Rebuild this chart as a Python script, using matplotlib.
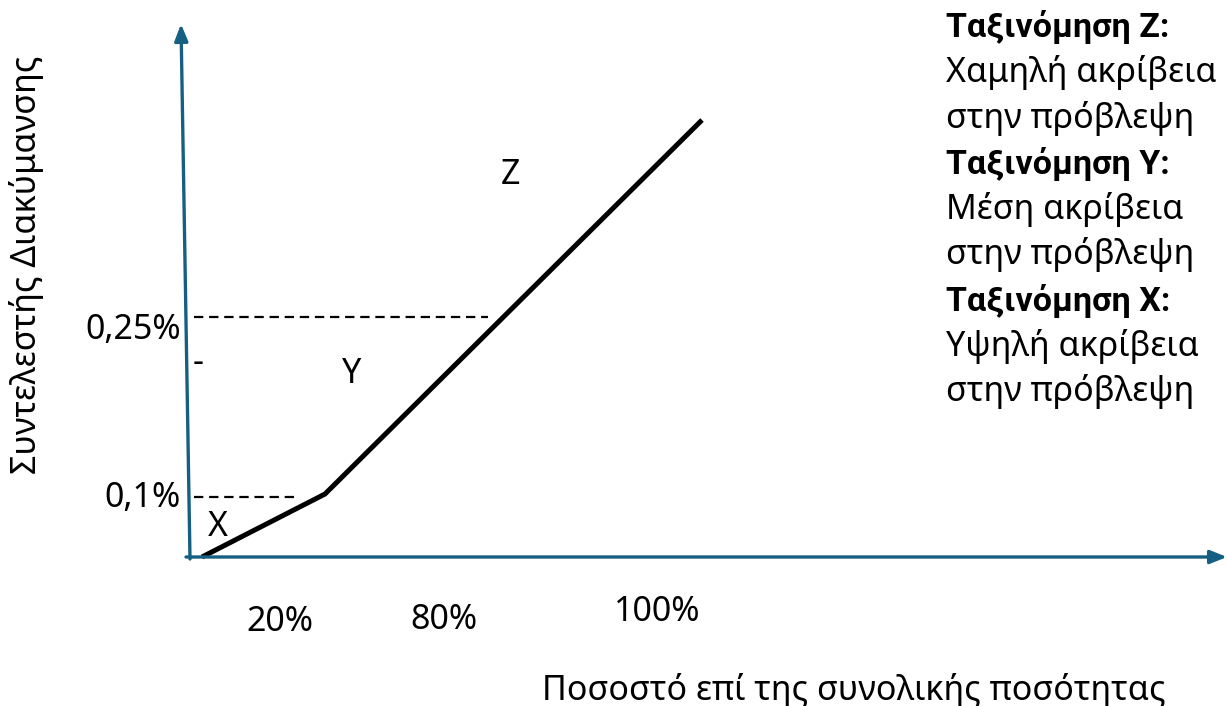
import matplotlib
matplotlib.use('Agg')
import matplotlib.pyplot as plt

plt.rcParams['font.family'] = ['Noto Sans', 'DejaVu Sans']

# diagram coordinates (pixel-like canvas, y grows downward)
curve_x = [202, 325, 702]
curve_y = [557, 494, 120]

dash_levels = [317, 497]
dash_ends = [488, 297]
dash_labels = ['0,25%', '0,1%']
dash_label_y = [330, 498]

x_tick_pos = [280, 444, 657]
x_tick_y = [622, 620, 612]
x_tick_labels = ['20%', '80%', '100%']

zone_labels = ['X', 'Y', 'Z']
zone_x = [218, 352, 511]
zone_y = [527, 374, 175]

legend_lines = [
    ('Ταξινόμηση Z:', True),
    ('Χαμηλή ακρίβεια', False),
    ('στην πρόβλεψη', False),
    ('Ταξινόμηση Y:', True),
    ('Μέση ακρίβεια', False),
    ('στην πρόβλεψη', False),
    ('Ταξινόμηση X:', True),
    ('Υψηλή ακρίβεια', False),
    ('στην πρόβλεψη', False),
]

axis_color = '#156082'

fig = plt.figure(figsize=(12.27, 7.06), dpi=100)
ax = fig.add_axes([0, 0, 1, 1])
ax.set_xlim(0, 1227)
ax.set_ylim(706, 0)
ax.axis('off')

# axes arrows
ax.annotate('', xy=(181, 24), xytext=(190, 559),
            arrowprops=dict(arrowstyle='-|>,head_width=0.4,head_length=1.0',
                            color=axis_color, lw=2.4, shrinkA=0, shrinkB=0))
ax.annotate('', xy=(1227, 557), xytext=(186, 557),
            arrowprops=dict(arrowstyle='-|>,head_width=0.4,head_length=1.0',
                            color=axis_color, lw=2.4, shrinkA=0, shrinkB=0))

# dashed guide lines
for lvl, end in zip(dash_levels, dash_ends):
    ax.plot([194, end], [lvl, lvl], color='black', lw=1.6, ls=(0, (4.2, 2.6)))

# main curve
ax.plot(curve_x, curve_y, color='black', lw=3.6, solid_joinstyle='miter',
        solid_capstyle='butt')

fs = 24.5
for lbl, y in zip(dash_labels, dash_label_y):
    ax.text(181, y, lbl, fontsize=fs, ha='right', va='center')
ax.text(198, 363, '-', fontsize=fs, ha='center', va='center')

for lbl, x, y in zip(x_tick_labels, x_tick_pos, x_tick_y):
    ax.text(x, y, lbl, fontsize=fs, ha='center', va='center')

for lbl, x, y in zip(zone_labels, zone_x, zone_y):
    ax.text(x, y, lbl, fontsize=fs, ha='center', va='center')

ax.text(27, 265, 'Συντελεστής Διακύμανσης', fontsize=fs, rotation=90,
        ha='center', va='center')
ax.text(854, 690, 'Ποσοστό επί της συνολικής ποσότητας', fontsize=fs,
        ha='center', va='center')

y0 = 27
step = 45.6
for i, (txt, bold) in enumerate(legend_lines):
    if bold:
        ax.text(946, y0 + i * step, txt, fontsize=fs, ha='left', va='center',
                fontweight='bold', family=['Roboto', 'DejaVu Sans'])
    else:
        ax.text(946, y0 + i * step, txt, fontsize=fs, ha='left', va='center')

fig.savefig('out.png', dpi=100)
